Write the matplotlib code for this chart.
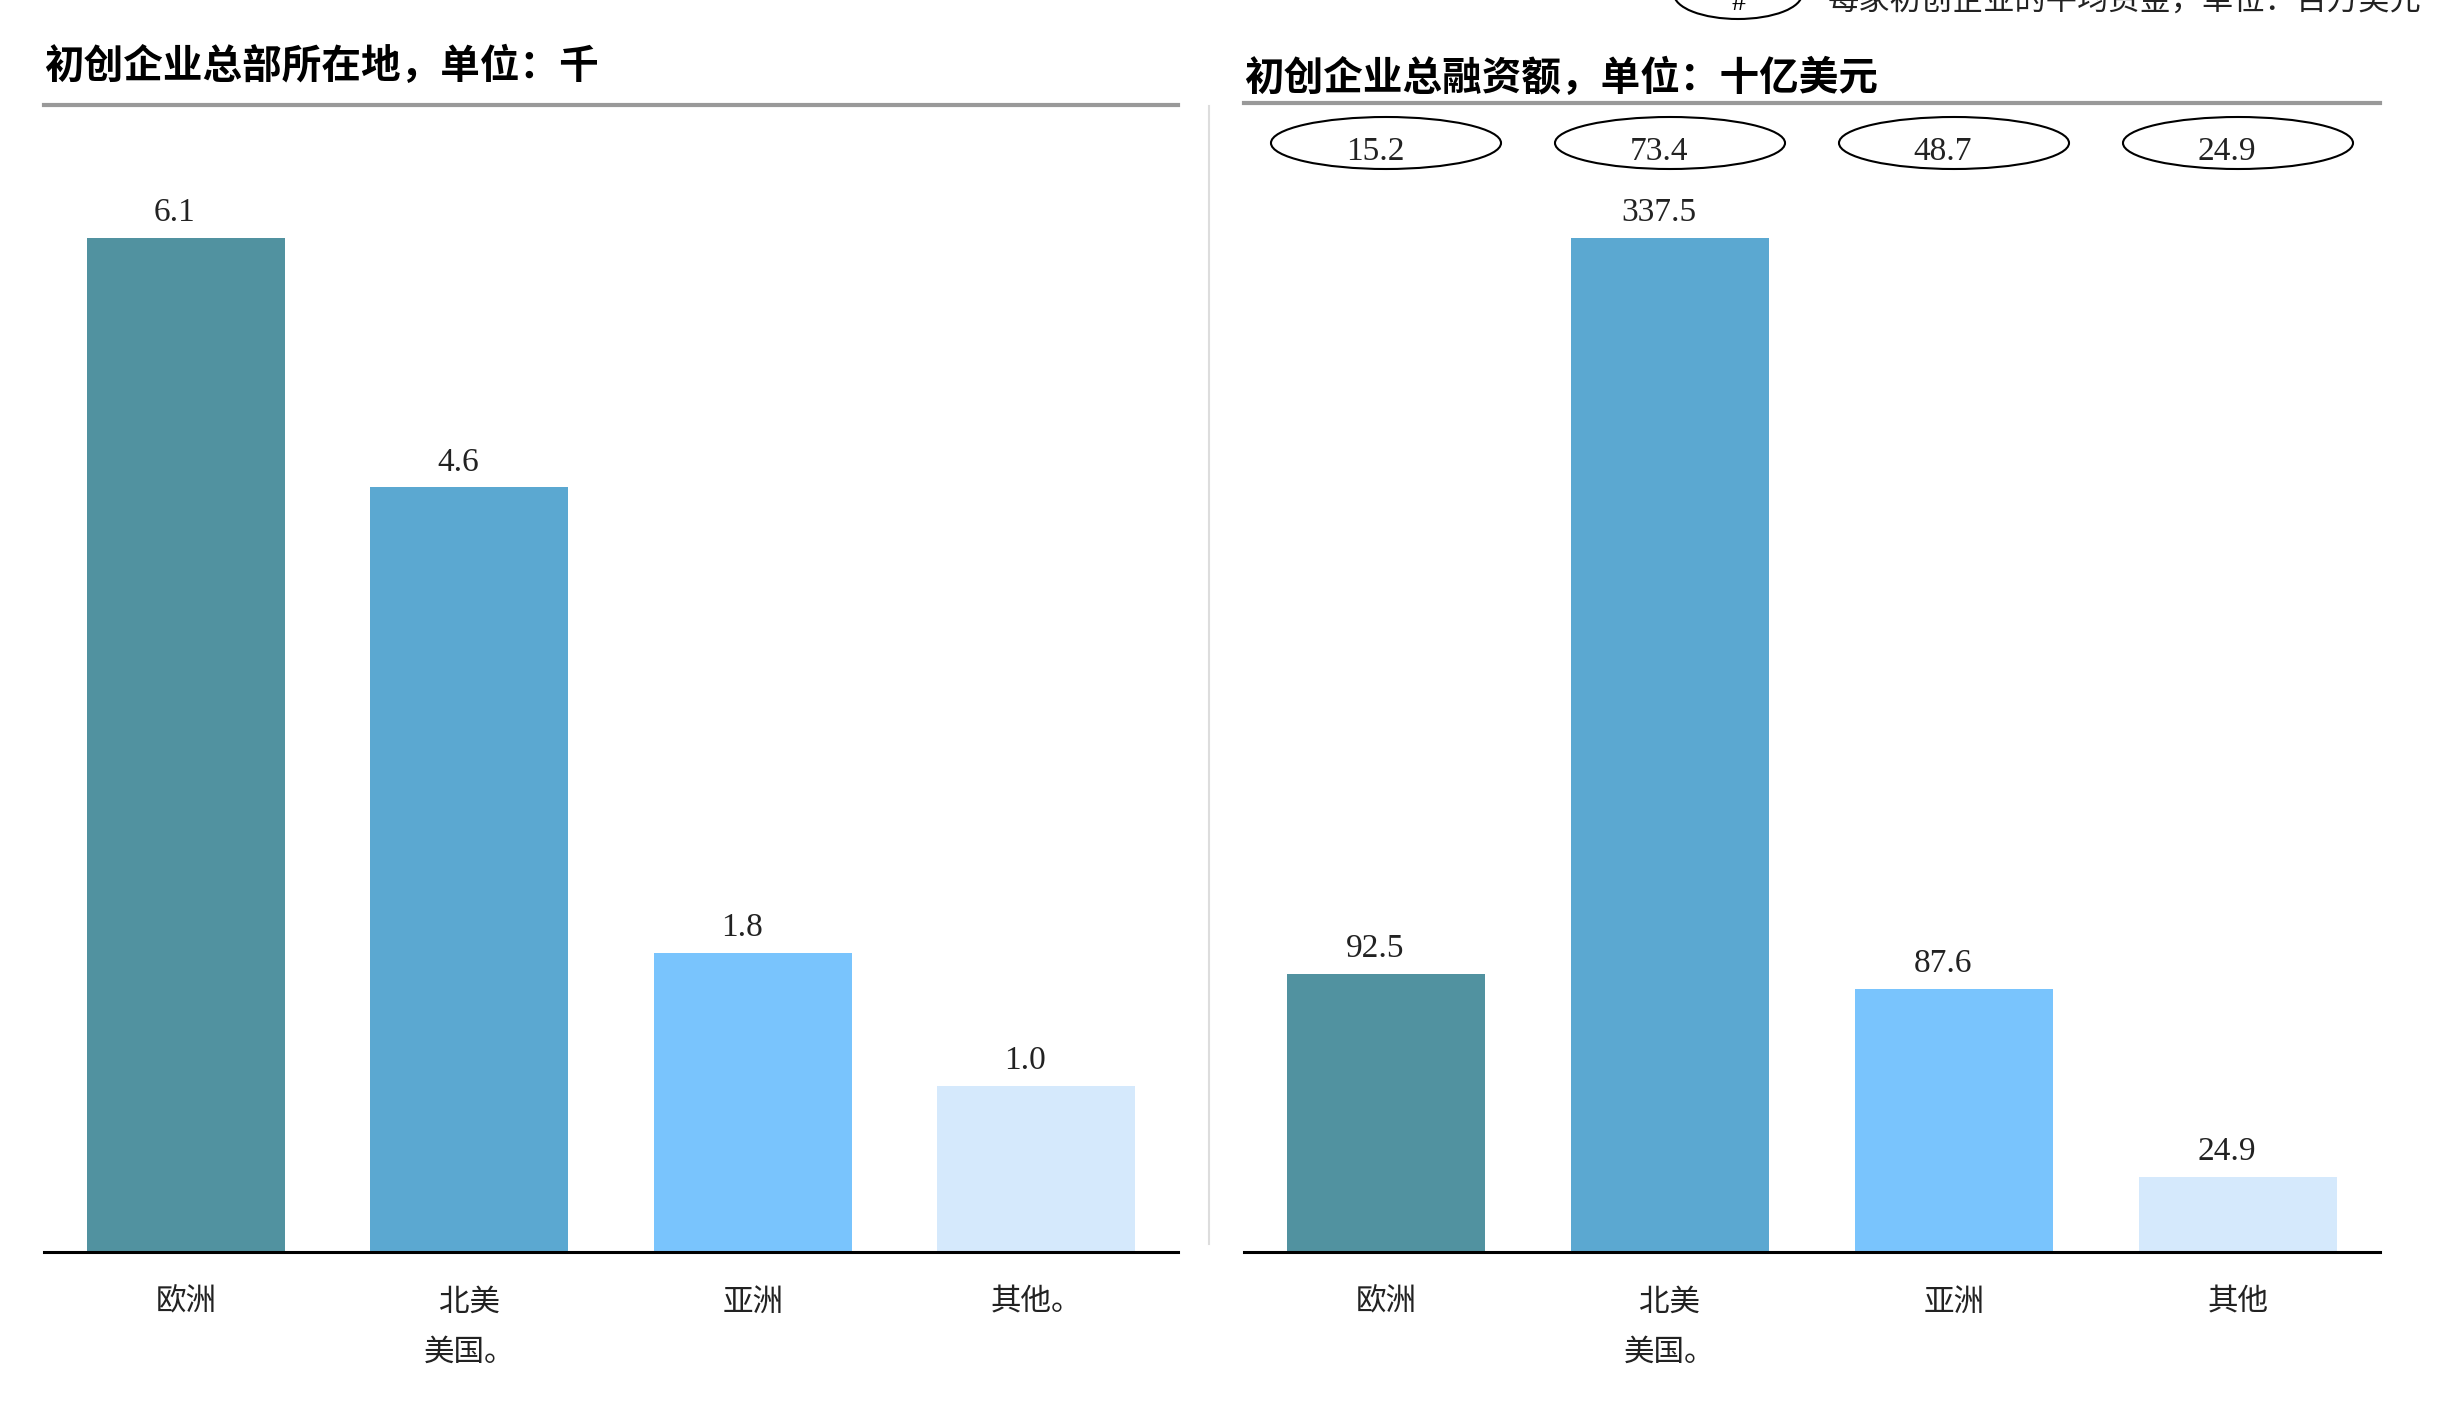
import matplotlib.pyplot as plt
import matplotlib.transforms as mtransforms
from matplotlib.patches import Ellipse
from matplotlib.lines import Line2D

plt.rcParams['font.family'] = ['Noto Sans CJK SC', 'DejaVu Sans']

# data
regions = ['欧洲', '北美\n美国。', '亚洲', '其他。']
regions_right = ['欧洲', '北美\n美国。', '亚洲', '其他']
hq_thousands = [6.1, 4.6, 1.8, 1.0]
funding_bn = [92.5, 337.5, 87.6, 24.9]
avg_funding_mn = [15.2, 73.4, 48.7, 24.9]
colors = ['#5192A0', '#5BA8D1', '#79C4FD', '#D5E9FC']

title_left = '初创企业总部所在地，单位：千'
title_right = '初创企业总融资额，单位：十亿美元'
legend_text = '每家初创企业的平均资金，单位：百万美元'

W, H = 2454, 1428
fig = plt.figure(figsize=(W / 100, H / 100), dpi=100)
fig.patch.set_facecolor('white')


def px_axes(x0, x1, ytop, ybot):
    return fig.add_axes([x0 / W, 1 - ybot / H, (x1 - x0) / W, (ybot - ytop) / H])


num_font = dict(family='Liberation Serif', fontsize=24, color='#222222')


def draw_panel(ax, values, labels, ymax_frac):
    x = range(len(values))
    bars = ax.bar(x, values, width=0.7, color=colors, zorder=2)
    ax.set_xlim(-0.5, len(values) - 0.5)
    ax.set_ylim(0, max(values) / ymax_frac)
    for b, v in zip(bars, values):
        ax.annotate(f'{v:.1f}', (b.get_x() + b.get_width() / 2, v),
                    xytext=(-8, 7), textcoords='offset points',
                    ha='center', va='bottom', **num_font)
    ax.set_xticks(list(x))
    ax.set_xticklabels(labels, fontsize=22, fontweight='light', linespacing=1.8,
                       va='top', color='#222222')
    ax.tick_params(axis='x', length=0, pad=25)
    ax.set_yticks([])
    for s in ['left', 'right']:
        ax.spines[s].set_visible(False)
    ax.spines['top'].set_color('#999999')
    ax.spines['top'].set_linewidth(3)
    ax.spines['bottom'].set_color('black')
    ax.spines['bottom'].set_linewidth(2.2)


# left panel
ax1 = px_axes(44, 1178, 105, 1252)
draw_panel(ax1, hq_thousands, regions, (1252 - 238) / (1252 - 105))
fig.text(44 / W, 1 - 66 / H, title_left, fontsize=28.5, fontweight='bold',
         ha='left', va='center')

# right panel
ax2 = px_axes(1244, 2380, 103, 1252)
draw_panel(ax2, funding_bn, regions_right, (1252 - 238) / (1252 - 103))
fig.text(1244 / W, 1 - 78 / H, title_right, fontsize=28.5, fontweight='bold',
         ha='left', va='center')

# average funding ellipses above right bars
trans = mtransforms.blended_transform_factory(ax2.transData, ax2.transAxes)
ell_y = (1252 - 143) / (1252 - 103)
for i, v in enumerate(avg_funding_mn):
    e = Ellipse((i, ell_y), width=0.81, height=52 / (1252 - 103), transform=trans,
                facecolor='white', edgecolor='black', linewidth=1.5, clip_on=False)
    ax2.add_patch(e)
    ax2.annotate(f'{v:.1f}', (i, (1252 - 152) / (1252 - 103)), xycoords=trans,
                 xytext=(-8, 0), textcoords='offset points',
                 ha='center', va='center', **num_font)

# separator line
fig.add_artist(Line2D([1209 / W, 1209 / W], [1 - 106 / H, 1 - 1244 / H],
                      color='#dddddd', linewidth=1.5))

# legend at the top (partially cut off)
leg = Ellipse((1738 / W, 1 + 6 / H), width=128 / W, height=50 / H,
              transform=fig.transFigure, facecolor='white', edgecolor='black',
              linewidth=1.5)
fig.add_artist(leg)
fig.text(1738 / W, 1 - 3 / H, '#', ha='center', va='center',
         family='Liberation Serif', fontsize=20)
fig.text(1828 / W, 1 - 2 / H, legend_text, ha='left', va='center',
         fontsize=22.5, fontweight='light', color='#222222')

fig.savefig('out.png', dpi=100, facecolor='white')
